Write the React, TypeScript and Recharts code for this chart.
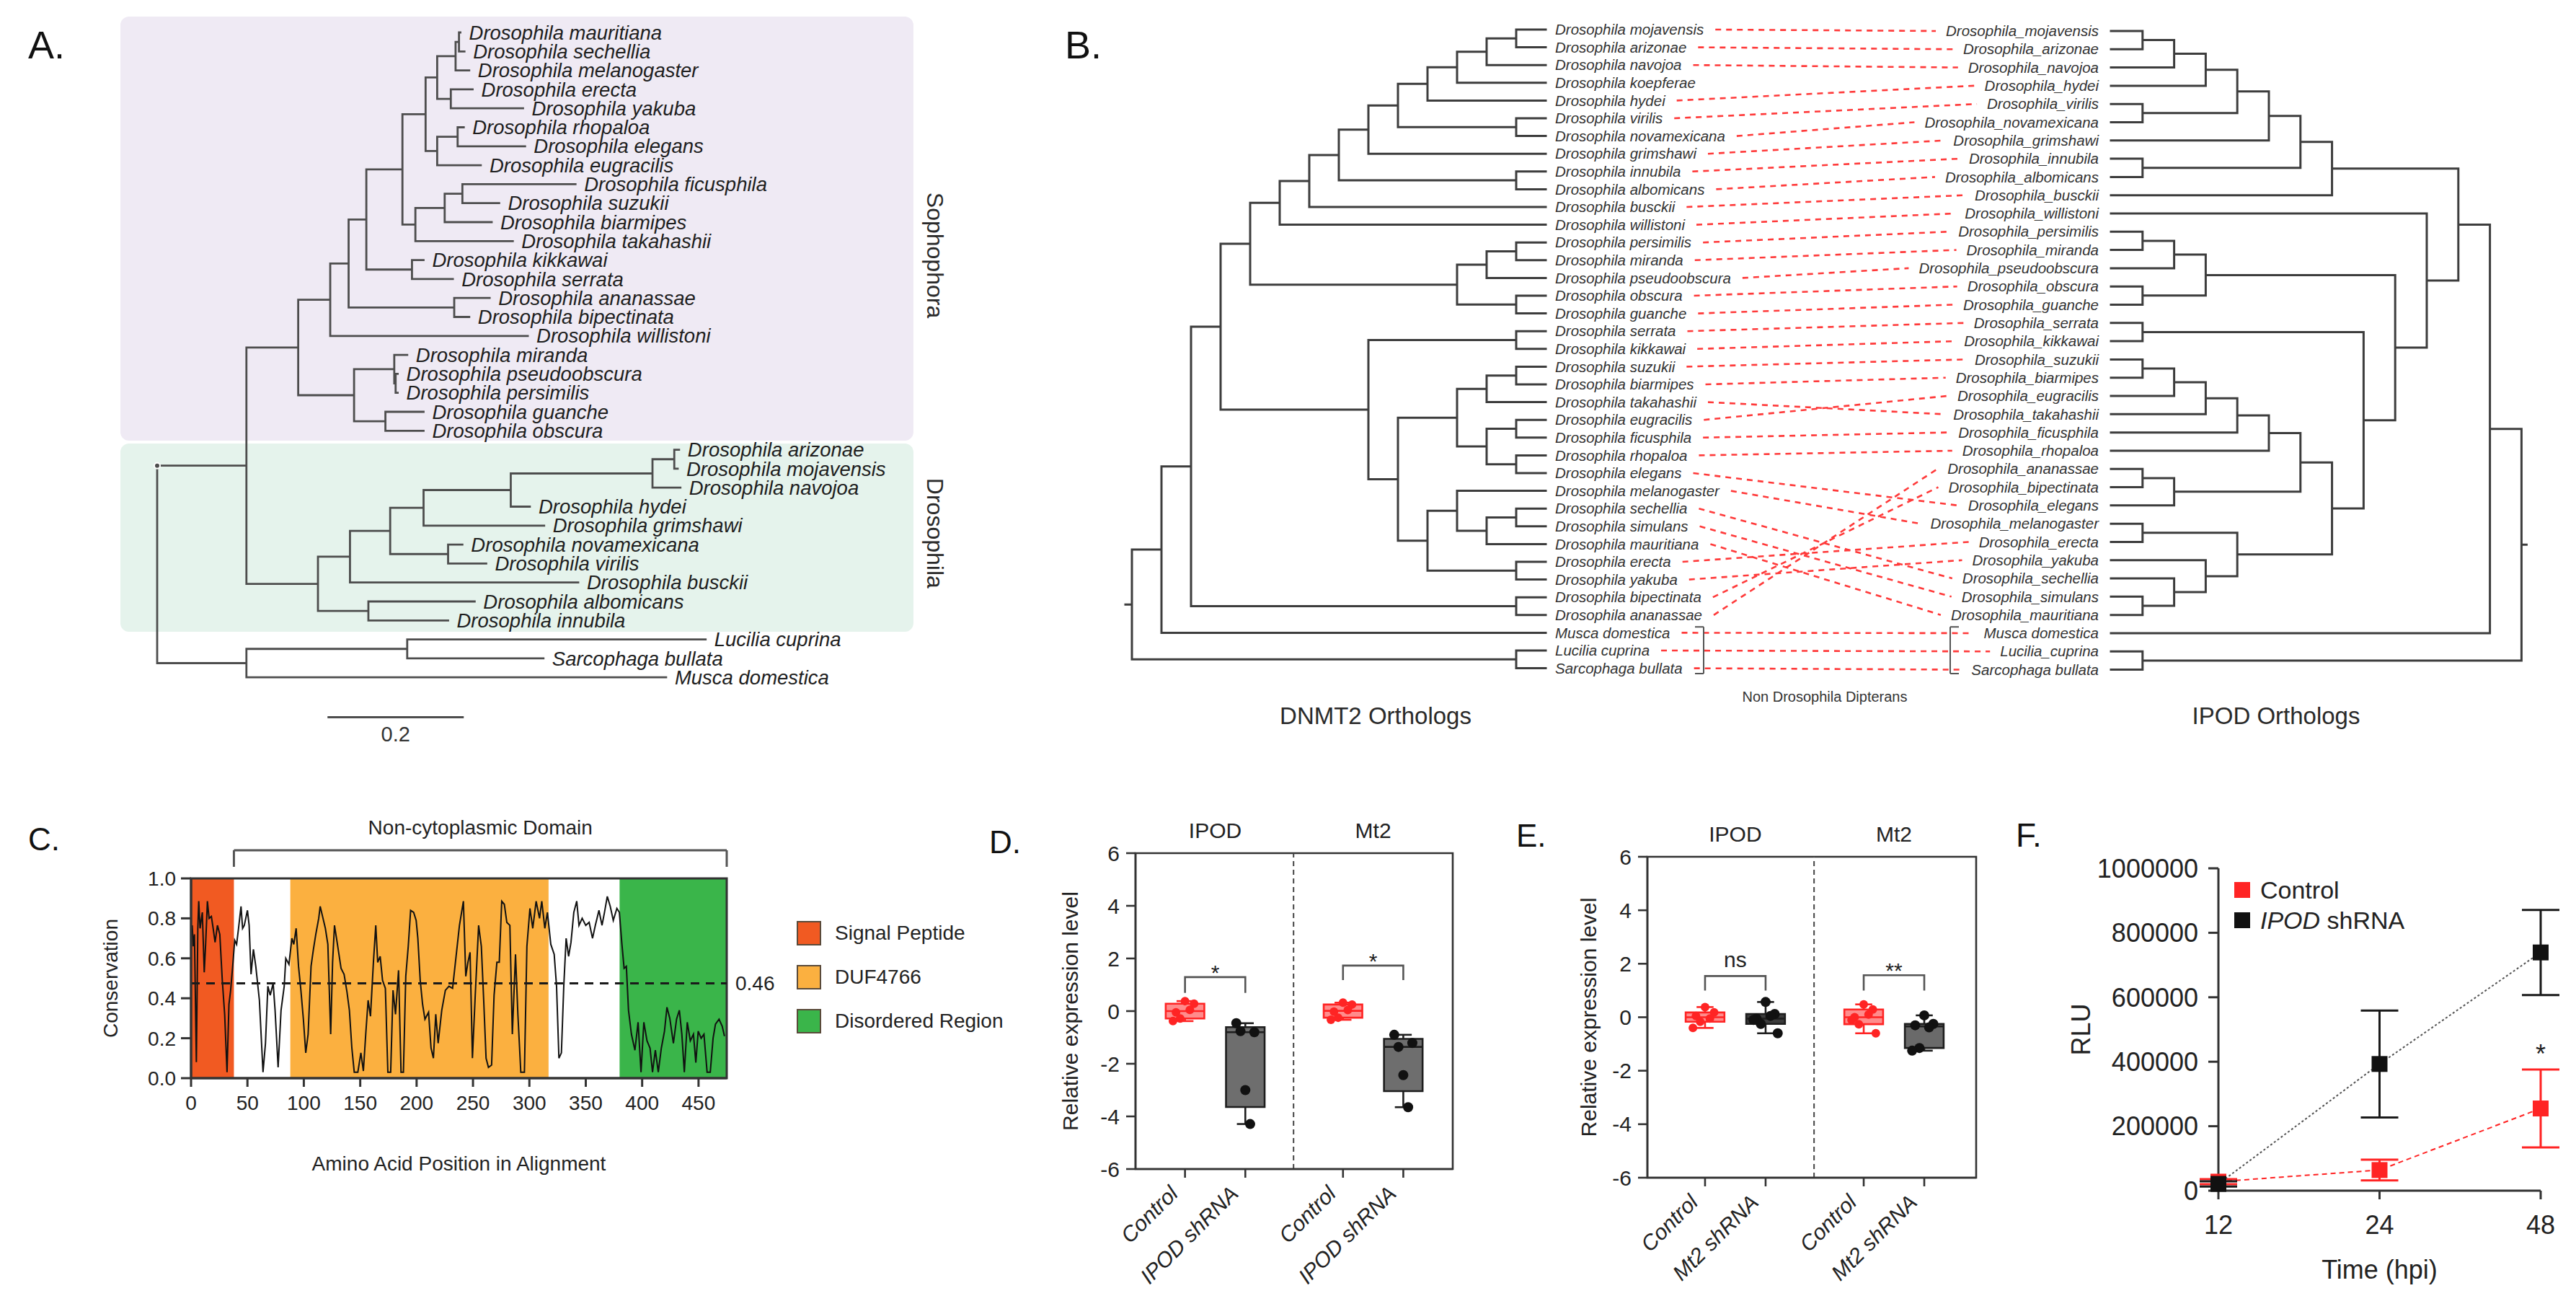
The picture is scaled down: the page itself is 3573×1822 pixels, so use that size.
import React from 'react';
import {
  ComposedChart, Line, Scatter, XAxis, YAxis, ReferenceArea, ReferenceLine,
  ReferenceDot, ErrorBar, Legend, Label,
} from 'recharts';

const FONT = '"Liberation Sans", Arial, Helvetica, sans-serif';
const INK = '#222';
const AXIS = '#333';
const RED = '#ff2424';

/* ---------------- A. IPOD phylogeny (Newick, substitutions / site) ---------------- */
const A_MELANOGASTER = '(((mauritiana:0.002,sechellia:0.008):0.005,melanogaster:0.020):0.027,(erecta:0.032,yakuba:0.106):0.020)';
const A_ELEGANS = '((rhopaloa:0.009,elegans:0.099):0.030,eugracilis:0.064)';
const A_SUZUKII = '(((ficusphila:0.166,suzukii:0.054):0.026,biarmipes:0.069):0.043,takahashii:0.143)';
const A_MONTIUM = '(kikkawai:0.017,serrata:0.060)';
const A_ANANASSAE = '(ananassae:0.052,bipectinata:0.022)';
const A_OBSCURA = '((miranda:0.019,(pseudoobscura:0.003,persimilis:0.003):0.002):0.059,(guanche:0.056,obscura:0.056):0.046)';
const A_REPLETA = '(((arizonae:0.007,mojavensis:0.005):0.032,navojoa:0.041):0.208,hydei:0.028)';
const A_VIRILIS = '(novamexicana:0.021,virilis:0.056)';
const A_IMMIGRANS = '(albomicans:0.156,innubila:0.117)';
const A_OUTGROUP = '((Lucilia cuprina:0.438,Sarcophaga bullata:0.200):0.236,Musca domestica:0.616)';
const A_SOPHOPHORA = `((((((${A_MELANOGASTER}:0.017,${A_ELEGANS}:0.017):0.034,${A_SUZUKII}:0.019):0.053,${A_MONTIUM}:0.067):0.026,${A_ANANASSAE}:0.155):0.027,willistoni:0.290):0.047,${A_OBSCURA}:0.082)`;
const A_DROSOPHILA = `((((${A_REPLETA}:0.128,grimshawi:0.177):0.049,${A_VIRILIS}:0.085):0.059,busckii:0.335):0.047,${A_IMMIGRANS}:0.074)`;
const A_TREE = `((${A_SOPHOPHORA}:0.076,${A_DROSOPHILA}:0.105):0.131,${A_OUTGROUP}:0.131);`;
const A_CLADES = ['Sophophora', 'Drosophila'];
const A_CLADE_FIRST = ['mauritiana', 'arizonae'];
const A_CLADE_LAST = ['obscura', 'innubila'];
const A_SCALE_BAR = 0.2;

/* ---------------- B. DNMT2 vs IPOD tanglegram (topologies) ---------------- */
const DNMT2_OBSCURA = '(((persimilis,miranda),pseudoobscura),(obscura,guanche))';
const DNMT2_MELANOGASTER = '((serrata,kikkawai),((((suzukii,biarmipes),takahashii),((eugracilis,ficusphila),(rhopaloa,elegans))),((melanogaster,((sechellia,simulans),mauritiana)),(erecta,yakuba))))';
const DNMT2_TREE = `((((((((((((((mojavensis,arizonae),navojoa),koepferae),hydei),(virilis,novamexicana)),grimshawi),(innubila,albomicans)),busckii),willistoni),${DNMT2_OBSCURA}),${DNMT2_MELANOGASTER}),(bipectinata,ananassae)),Musca domestica),(Lucilia cuprina,Sarcophaga bullata));`;
const IPOD_DROSOPHILA = '(((((((mojavensis,arizonae),navojoa),hydei),(virilis,novamexicana)),grimshawi),(innubila,albomicans)),busckii)';
const IPOD_OBSCURA = '(((persimilis,miranda),pseudoobscura),(obscura,guanche))';
const IPOD_SUZUKII = '(((((suzukii,biarmipes),eugracilis),takahashii),ficusphila),rhopaloa)';
const IPOD_MELANOGASTER = `((serrata,kikkawai),((${IPOD_SUZUKII},((ananassae,bipectinata),elegans)),((melanogaster,erecta),(yakuba,(sechellia,(simulans,mauritiana))))))`;
const IPOD_TREE = `(((${IPOD_DROSOPHILA},(willistoni,(${IPOD_OBSCURA},${IPOD_MELANOGASTER}))),Musca domestica),(Lucilia_cuprina,Sarcophaga bullata));`;

/* ---------------- C. conservation along the IPOD alignment ---------------- */
const C_PROFILE = [
  [1, 0.765], [2, 0.66], [3, 0.72], [4.7, 0.08], [6, 0.75], [6.8, 0.886], [8, 0.75], [10, 0.83], [11.7, 0.53], [13, 0.68],
  [14.5, 0.886], [16, 0.8], [18, 0.81], [19.6, 0.75], [21.3, 0.68], [23.4, 0.765], [25.5, 0.72], [27.7, 0.49], [29.8, 0.32], [31.9, 0.03],
  [33.6, 0.37], [35.1, 0.44], [37.2, 0.58], [38.7, 0.69], [40.4, 0.67], [42.1, 0.75], [44.3, 0.86], [45.7, 0.75], [47.2, 0.765], [50, 0.84],
  [51.5, 0.765], [53.2, 0.52], [55.3, 0.645], [57.4, 0.56], [60.6, 0.39], [63.8, 0.03], [66, 0.175], [68.1, 0.46], [70.2, 0.415], [72.8, 0.475],
  [74.5, 0.34], [77.2, 0.054], [79.8, 0.34], [82.6, 0.46], [84, 0.6], [86.8, 0.57], [89.4, 0.7], [91.1, 0.67], [93.2, 0.75], [95.3, 0.56],
  [97.4, 0.44], [99.6, 0.295], [101.7, 0.127], [103.8, 0.22], [106.4, 0.56], [108.5, 0.645], [110.6, 0.72], [113.2, 0.8], [114.5, 0.86], [116.6, 0.81],
  [119.1, 0.75], [121.3, 0.67], [123.8, 0.22], [125.5, 0.58], [127.2, 0.765], [129.8, 0.67], [133, 0.55], [135.7, 0.52], [138.3, 0.43], [140.4, 0.34],
  [142.6, 0.15], [144.7, 0.03], [147.9, 0.03], [150.6, 0.127], [152.8, 0.036], [154.9, 0.22], [157, 0.39], [159.1, 0.31], [161.7, 0.58], [163.8, 0.765],
  [165.5, 0.58], [167.7, 0.61], [169.8, 0.49], [172.3, 0.45], [174.5, 0.03], [177, 0.03], [179.1, 0.44], [181.3, 0.32], [184, 0.54], [186.2, 0.03],
  [188.3, 0.03], [190.4, 0.51], [192.6, 0.66], [194.7, 0.84], [197.4, 0.83], [199.6, 0.79], [201.1, 0.7], [203.2, 0.49], [205.3, 0.37], [207.4, 0.295],
  [210.6, 0.33], [212.8, 0.15], [214.9, 0.1], [217, 0.32], [219.1, 0.175], [222.3, 0.34], [225.5, 0.44], [228.7, 0.46], [231.9, 0.45], [235, 0.61],
  [238, 0.765], [241.5, 0.886], [243.6, 0.51], [245.5, 0.58], [247.4, 0.63], [249.5, 0.1], [252, 0.415], [255, 0.765], [257.4, 0.66], [259.5, 0.39],
  [261.6, 0.1], [263.7, 0.054], [266.5, 0.066], [268.7, 0.415], [271.2, 0.58], [273.3, 0.58], [275.5, 0.886], [277.8, 0.87], [280, 0.78], [282.7, 0.765],
  [284.9, 0.22], [287.7, 0.62], [289.8, 0.32], [292.4, 0.03], [295.6, 0.03], [297.8, 0.66], [300.5, 0.85], [303, 0.75], [306, 0.886], [309, 0.8],
  [311, 0.886], [313.7, 0.75], [316, 0.83], [319, 0.67], [322, 0.62], [324.1, 0.46], [326.2, 0.1], [328.4, 0.127], [330.5, 0.46], [332.6, 0.7],
  [334.8, 0.61], [336.9, 0.68], [339.4, 0.83], [342, 0.886], [344, 0.765], [346.8, 0.8], [350, 0.765], [353, 0.78], [356, 0.7], [358.5, 0.765],
  [361.7, 0.84], [364.4, 0.765], [366.6, 0.83], [369.1, 0.91], [371.7, 0.86], [374.4, 0.79], [377.6, 0.85], [379.8, 0.83], [381.9, 0.68], [384, 0.55],
  [386, 0.56], [387.9, 0.34], [390.5, 0.22], [393.6, 0.14], [396.4, 0.28], [399, 0.03], [401.5, 0.28], [404.3, 0.187], [407, 0.15], [409.2, 0.03],
  [411.7, 0.14], [414.3, 0.03], [417, 0.15], [419.8, 0.235], [422, 0.355], [424.5, 0.3], [427.7, 0.175], [430.5, 0.295], [433, 0.34], [435.2, 0.22],
  [437.4, 0.03], [440, 0.28], [442.7, 0.187], [445.5, 0.22], [447.6, 0.078], [449.7, 0.235], [452.3, 0.2], [454.8, 0.22], [457.6, 0.03], [460.4, 0.03],
  [462.9, 0.2], [465, 0.27], [468.2, 0.295], [471, 0.26], [473, 0.21],
];
const C_DOMAINS = ['Signal Peptide', 'DUF4766', 'Disordered Region'];
const C_DOMAIN_START = [0, 88, 380];
const C_DOMAIN_END = [38, 317, 475];
const C_DOMAIN_COLORS = ['#f15a22', '#fbb040', '#3ab54a'];
const C_NON_CYTO = [38, 475];
const C_THRESHOLD = 0.475;
const C_THRESHOLD_LABEL = '0.46';
const C_X_MAX = 475;
const C_X_TICKS = [0, 50, 100, 150, 200, 250, 300, 350, 400, 450];
const C_Y_TICKS = [0, 0.2, 0.4, 0.6, 0.8, 1];

/* ---------------- D / E. qPCR relative expression ---------------- */
const D_GROUPS = ['IPOD', 'Mt2'];
const D_TICKS = ['Control', 'IPOD shRNA', 'Control', 'IPOD shRNA'];
const D_IPOD_CONTROL = [0.38, -0.05, 0.28, -0.28, 0.05, -0.38];
const D_IPOD_SHRNA = [-3.0, -0.46, -0.8, -0.76, -4.29];
const D_MT2_CONTROL = [0.32, -0.02, 0.25, -0.25, 0.04, -0.33];
const D_MT2_SHRNA = [-2.43, -0.9, -1.21, -1.36, -3.65];
const D_SIG = ['*', '*'];

const E_GROUPS = ['IPOD', 'Mt2'];
const E_TICKS = ['Control', 'Mt2 shRNA', 'Control', 'Mt2 shRNA'];
const E_IPOD_CONTROL = [0.38, 0.05, 0.18, -0.17, -0.05, -0.4];
const E_IPOD_SHRNA = [0.57, -0.05, 0.12, -0.25, 0.05, -0.1, -0.6];
const E_MT2_CONTROL = [0.48, 0.0, 0.29, -0.26, 0.1, -0.1, -0.6];
const E_MT2_SHRNA = [0.07, -0.3, -0.25, -1.15, -0.38, -1.25];
const E_SIG = ['ns', '**'];
const EXPR_Y_TICKS = [-6, -4, -2, 0, 2, 4, 6];

/* ---------------- F. virus replication ---------------- */
const F_TIMES = ['12', '24', '48'];
const F_CONTROL = [28000, 64000, 255000];
const F_CONTROL_SD = [8000, 32000, 121000];
const F_SHRNA = [21000, 393000, 739000];
const F_SHRNA_SD = [8000, 166000, 132000];
const F_Y_TICKS = [0, 200000, 400000, 600000, 800000, 1000000];

/* ---------------- helpers ---------------- */
type TNode = { name: string; len: number; children: TNode[] };
type Seg = [number, number, number, number];
type Leaf = { name: string; x: number; y: number };

function parseNewick(src: string): TNode {
  let i = 0;
  const read = (): TNode => {
    const node: TNode = { name: '', len: 0, children: [] };
    if (src[i] === '(') {
      i += 1;
      node.children.push(read());
      while (src[i] === ',') { i += 1; node.children.push(read()); }
      i += 1;
    }
    let name = '';
    while (i < src.length && !',():;'.includes(src[i])) name += src[i++];
    node.name = name.trim();
    if (src[i] === ':') {
      i += 1;
      let num = '';
      while (i < src.length && !',();'.includes(src[i])) num += src[i++];
      node.len = parseFloat(num);
    }
    return node;
  };
  return read();
}

// branch lengths -> x distance from the root
function phylogram(root: TNode) {
  const leaves: Leaf[] = [];
  const segs: Seg[] = [];
  const walk = (n: TNode, px: number): { x: number; y: number } => {
    const x = px + n.len;
    if (!n.children.length) {
      const y = leaves.length;
      leaves.push({ name: n.name, x, y });
      return { x, y };
    }
    const kids = n.children.map((c) => walk(c, x));
    const y0 = kids[0].y;
    const y1 = kids[kids.length - 1].y;
    segs.push([x, y0, x, y1]);
    kids.forEach((k) => segs.push([x, k.y, k.x, k.y]));
    return { x, y: (y0 + y1) / 2 };
  };
  walk(root, 0);
  return { leaves, segs };
}

// no branch lengths: x = node height above the tips
function cladogram(root: TNode) {
  const leaves: Leaf[] = [];
  const segs: Seg[] = [];
  const walk = (n: TNode): { h: number; y: number } => {
    if (!n.children.length) {
      const y = leaves.length;
      leaves.push({ name: n.name, x: 0, y });
      return { h: 0, y };
    }
    const kids = n.children.map(walk);
    const h = 1 + Math.max(...kids.map((k) => k.h));
    const y0 = kids[0].y;
    const y1 = kids[kids.length - 1].y;
    segs.push([h, y0, h, y1]);
    kids.forEach((k) => segs.push([h, k.y, k.h, k.y]));
    return { h, y: (y0 + y1) / 2 };
  };
  const top = walk(root);
  return { leaves, segs, rootH: top.h, rootY: top.y };
}

const toPath = (segs: Seg[]) =>
  segs.flatMap(([x1, y1, x2, y2]) => [{ x: x1, y: y1 }, { x: x2, y: y2 }, { x: x2, y: null }]);

const fullName = (n: string, sep: string) => (/^[A-Z]/.test(n) ? n : `Drosophila${sep}${n}`);

let measureCtx: CanvasRenderingContext2D | null = null;
function textWidth(s: string, font: string) {
  if (!measureCtx) measureCtx = document.createElement('canvas').getContext('2d');
  if (!measureCtx) return s.length * 10;
  measureCtx.font = font;
  return measureCtx.measureText(s).width;
}

function textShape(o: { dx?: number; anchor?: string; size: number; italic?: boolean; fill?: string; rotate?: number }) {
  return (p: any) => {
    const x = p.cx + (o.dx || 0);
    const y = p.cy;
    return (
      <text
        x={x} y={y} dy="0.35em" textAnchor={o.anchor || 'start'} fontSize={o.size}
        fontStyle={o.italic ? 'italic' : 'normal'} fontFamily={FONT} fill={o.fill || INK}
        transform={o.rotate ? `rotate(${o.rotate} ${x} ${y})` : undefined}
      >
        {p.payload.label}
      </text>
    );
  };
}

function boxStats(v: number[]) {
  const s = [...v].sort((a, b) => a - b);
  const med = (a: number[]) => (a.length % 2 ? a[(a.length - 1) / 2] : (a[a.length / 2 - 1] + a[a.length / 2]) / 2);
  const half = Math.floor(s.length / 2);
  return { min: s[0], max: s[s.length - 1], median: med(s), q1: med(s.slice(0, half)), q3: med(s.slice(s.length - half)) };
}

/* ---------------- panel A ---------------- */
const A_W = 1340;
const A_H = 1060;
const A_ROOT_PX = 218;
const A_PX_PER_UNIT = 945;
const A_TOP_PX = 45;
const A_ROW_PX = 26.3;

function PanelA() {
  const { leaves, segs } = phylogram(parseNewick(A_TREE));
  const row = (n: string) => leaves.findIndex((l) => l.name === n);
  const xDom = [-A_ROOT_PX / A_PX_PER_UNIT, (A_W - A_ROOT_PX) / A_PX_PER_UNIT];
  const yDom = [-A_TOP_PX / A_ROW_PX, (A_H - A_TOP_PX) / A_ROW_PX];
  const boxPad = [[-0.84, 0.52], [-0.33, 0.6]];
  const cladeLabelRow = [11.75, 26.4];
  const labels = leaves.map((l) => ({ x: l.x, y: l.y, label: fullName(l.name, ' ') }));
  const barRow = leaves.length + 1.1;
  const barStart = 0.25;
  return (
    <ComposedChart width={A_W} height={A_H} margin={{ top: 0, right: 0, bottom: 0, left: 0 }}>
      <XAxis type="number" dataKey="x" domain={xDom} hide allowDataOverflow />
      <YAxis type="number" dataKey="y" domain={yDom} reversed hide allowDataOverflow />
      {A_CLADES.map((c, i) => (
        <ReferenceArea
          key={c} x1={-0.054} x2={1.11}
          y1={row(A_CLADE_FIRST[i]) + boxPad[i][0]} y2={row(A_CLADE_LAST[i]) + boxPad[i][1]}
          fill={i === 0 ? '#efeaf4' : '#e5f3ec'} fillOpacity={1} stroke="none" radius={12}
        />
      ))}
      <Line data={toPath(segs)} dataKey="y" stroke="#4d4d4d" strokeWidth={2.8} dot={false}
        strokeLinecap="square" isAnimationActive={false} />
      <Line data={[{ x: barStart, y: barRow }, { x: barStart + A_SCALE_BAR, y: barRow }]} dataKey="y"
        stroke="#4d4d4d" strokeWidth={3} dot={false} isAnimationActive={false} />
      <Scatter data={labels} isAnimationActive={false} shape={textShape({ dx: 12, size: 27.5, italic: true, fill: '#1e1e1e' })} />
      <Scatter
        data={A_CLADES.map((c, i) => ({ x: 1.142, y: cladeLabelRow[i], label: c }))}
        isAnimationActive={false} shape={textShape({ anchor: 'middle', size: 32, rotate: 90, fill: '#2a2a2a' })}
      />
      <Scatter data={[{ x: barStart + A_SCALE_BAR / 2, y: barRow + 0.88, label: String(A_SCALE_BAR) }]}
        isAnimationActive={false} shape={textShape({ anchor: 'middle', size: 29, fill: '#333' })} />
    </ComposedChart>
  );
}

/* ---------------- panel B ---------------- */
const B_W = 2123;
const B_H = 1060;
const B_TOP_PX = 41;
const B_ROW_PX = 24.6;
const B_L_TIP = 694;
const B_L_STEP = 41;
const B_R_TIP = 1478;
const B_R_STEP = 43.8;
const B_LABEL_SIZE = 20.5;

function PanelB() {
  const L = cladogram(parseNewick(DNMT2_TREE));
  const R = cladogram(parseNewick(IPOD_TREE));
  const rScale = (L.leaves.length - 1) / (R.leaves.length - 1);
  const rOff = 0.08;
  const lx = (h: number) => B_L_TIP - h * B_L_STEP;
  const rx = (h: number) => B_R_TIP + h * B_R_STEP;
  const ry = (y: number) => y * rScale + rOff;
  const leftSegs: Seg[] = L.segs.map(([a, b, c, d]) => [lx(a), b, lx(c), d]);
  leftSegs.push([lx(L.rootH), L.rootY, lx(L.rootH) - 9, L.rootY]);
  const rightSegs: Seg[] = R.segs.map(([a, b, c, d]) => [rx(a), ry(b), rx(c), ry(d)]);
  rightSegs.push([rx(R.rootH), ry(R.rootY), rx(R.rootH) + 7, ry(R.rootY)]);

  const font = `italic ${B_LABEL_SIZE}px ${FONT}`;
  const lLabels = L.leaves.map((l) => ({ x: lx(0), y: l.y, label: fullName(l.name, ' ') }));
  const rLabels = R.leaves.map((l) => ({ x: rx(0), y: ry(l.y), label: fullName(l.name, '_') }));
  const links: Seg[] = [];
  lLabels.forEach((l) => {
    const key = l.label.replace(/_/g, ' ');
    const r = rLabels.find((q) => q.label.replace(/_/g, ' ') === key);
    if (!r) return;
    links.push([
      l.x + 13 + textWidth(l.label, font) + 16, l.y,
      r.x - 17 - textWidth(r.label, font) - 14, r.y,
    ]);
  });
  const yDom = [-B_TOP_PX / B_ROW_PX, (B_H - B_TOP_PX) / B_ROW_PX];
  const outL = L.leaves.length - 3;
  const bracketTop = outL - 0.33;
  const bracketBot = L.leaves.length - 1 + 0.3;
  const brackets: Seg[] = [
    [913, bracketTop, 913, bracketBot], [901, bracketTop, 913, bracketTop], [901, bracketBot, 913, bracketBot],
    [1255, bracketTop, 1255, bracketBot], [1255, bracketTop, 1267, bracketTop], [1255, bracketBot, 1267, bracketBot],
  ];
  return (
    <ComposedChart width={B_W} height={B_H} margin={{ top: 0, right: 0, bottom: 0, left: 0 }}>
      <XAxis type="number" dataKey="x" domain={[0, B_W]} hide allowDataOverflow />
      <YAxis type="number" dataKey="y" domain={yDom} reversed hide allowDataOverflow />
      <Line data={toPath(links)} dataKey="y" stroke="#ff3a3a" strokeWidth={2.6} strokeDasharray="8 7"
        dot={false} isAnimationActive={false} />
      <Line data={toPath(leftSegs)} dataKey="y" stroke="#3d3d3d" strokeWidth={3} dot={false}
        strokeLinecap="square" isAnimationActive={false} />
      <Line data={toPath(rightSegs)} dataKey="y" stroke="#3d3d3d" strokeWidth={3} dot={false}
        strokeLinecap="square" isAnimationActive={false} />
      <Line data={toPath(brackets)} dataKey="y" stroke="#555" strokeWidth={2} dot={false} isAnimationActive={false} />
      <Scatter data={lLabels} isAnimationActive={false}
        shape={textShape({ dx: 13, size: B_LABEL_SIZE, italic: true, fill: '#333' })} />
      <Scatter data={rLabels} isAnimationActive={false}
        shape={textShape({ dx: -17, anchor: 'end', size: B_LABEL_SIZE, italic: true, fill: '#333' })} />
      <Scatter data={[{ x: 1081, y: 37.6, label: 'Non Drosophila Dipterans' }]} isAnimationActive={false}
        shape={textShape({ anchor: 'middle', size: 20, fill: '#333' })} />
      <Scatter data={[{ x: 458, y: 38.66, label: 'DNMT2 Orthologs' }, { x: 1707, y: 38.66, label: 'IPOD Orthologs' }]}
        isAnimationActive={false} shape={textShape({ anchor: 'middle', size: 33, fill: '#2a2a2a' })} />
    </ComposedChart>
  );
}

/* ---------------- panel C ---------------- */
function CLegend() {
  return (
    <div style={{ fontFamily: FONT }}>
      {C_DOMAINS.map((d, i) => (
        <div key={d} style={{ display: 'flex', alignItems: 'center', height: 34, marginBottom: 27 }}>
          <div style={{ width: 34, height: 34, background: C_DOMAIN_COLORS[i], border: '2px solid #5a4a3a', boxSizing: 'border-box' }} />
          <span style={{ marginLeft: 19, fontSize: 28, color: INK, whiteSpace: 'nowrap' }}>{d}</span>
        </div>
      ))}
    </div>
  );
}

function PanelC() {
  const data = C_PROFILE.map(([x, y]) => ({ x, y }));
  const tick = { fontSize: 28, fill: INK, fontFamily: FONT };
  const line = { stroke: AXIS, strokeWidth: 3 };
  const bY = 1.141;
  const legY = 1.058;
  return (
    <ComposedChart width={1440} height={560} margin={{ top: 138, left: 41, right: 432, bottom: 17 }}>
      <XAxis type="number" dataKey="x" domain={[0, C_X_MAX]} ticks={C_X_TICKS} interval={0} allowDataOverflow
        height={128} tickSize={12} tickMargin={12} tick={tick} axisLine={line} tickLine={line}>
        <Label value="Amino Acid Position in Alignment" position="insideBottom" offset={0} fontSize={28} fill={INK} fontFamily={FONT} />
      </XAxis>
      <YAxis type="number" dataKey="y" domain={[0, 1]} ticks={C_Y_TICKS} interval={0} allowDataOverflow
        tickFormatter={(v: number) => v.toFixed(1)} width={224} tickSize={14} tickMargin={7} tick={tick} axisLine={line} tickLine={line}>
        <Label value="Conservation" angle={-90} position="center" fontSize={28} fill={INK} fontFamily={FONT} />
      </YAxis>
      {C_DOMAINS.map((d, i) => (
        <ReferenceArea key={d} x1={C_DOMAIN_START[i]} x2={C_DOMAIN_END[i]} y1={0} y2={1}
          fill={C_DOMAIN_COLORS[i]} fillOpacity={1} stroke="none" />
      ))}
      <Line data={data} dataKey="y" stroke="#111" strokeWidth={2} dot={false} isAnimationActive={false} />
      <ReferenceLine y={C_THRESHOLD} stroke="#1a1a1a" strokeWidth={3} strokeDasharray="12 9"
        label={{ value: C_THRESHOLD_LABEL, position: 'right', offset: 12, fontSize: 28, fill: INK, fontFamily: FONT }} />
      <ReferenceArea x1={0} x2={C_X_MAX} y1={0} y2={1} fill="none" stroke={AXIS} strokeWidth={3} ifOverflow="visible" />
      <ReferenceLine segment={[{ x: C_NON_CYTO[0], y: bY }, { x: C_NON_CYTO[1], y: bY }]} ifOverflow="visible"
        stroke="#555" strokeWidth={3}
        label={{ value: 'Non-cytoplasmic Domain', position: 'top', offset: 22, fontSize: 28, fill: INK, fontFamily: FONT }} />
      <ReferenceLine segment={[{ x: C_NON_CYTO[0], y: bY }, { x: C_NON_CYTO[0], y: legY }]} ifOverflow="visible" stroke="#555" strokeWidth={3} />
      <ReferenceLine segment={[{ x: C_NON_CYTO[1], y: bY }, { x: C_NON_CYTO[1], y: legY }]} ifOverflow="visible" stroke="#555" strokeWidth={3} />
      <Legend layout="horizontal" verticalAlign="middle" align="center" content={() => <CLegend />}
        wrapperStyle={{ left: 1105, top: 197, width: 330, height: 'auto' }} />
    </ComposedChart>
  );
}

/* ---------------- panels D / E ---------------- */
const EXPR_POS = [1, 2, 3.62, 4.62];
const EXPR_DIVIDER = 2.8;
const BOX_HALF = 0.32;
const CAP_HALF = 0.14;
const JITTER = [0, -0.15, 0.15, -0.08, 0.08, -0.2, 0.2];

type ExprProps = {
  width: number; height: number; margin: any;
  yAxisWidth: number; xAxisHeight: number; domainX: number[];
  groups: string[]; tickLabels: string[]; samples: number[][]; shrnaFills: string[];
  sig: string[]; brackets: number[][];
};

function ExprPanel(p: ExprProps) {
  const tick = { fontSize: 30, fill: INK, fontFamily: FONT };
  const line = { stroke: AXIS, strokeWidth: 2.6 };
  const groupCenters = [0, 1].map((g) => (EXPR_POS[2 * g] + EXPR_POS[2 * g + 1]) / 2);
  const renderTick = (t: any) => {
    const i = EXPR_POS.findIndex((v) => Math.abs(v - t.payload.value) < 1e-6);
    const x = t.x - 8;
    const y = t.y;
    return (
      <text x={x} y={y} transform={`rotate(-45 ${x} ${y})`} textAnchor="end" fontSize={30}
        fontStyle="italic" fontFamily={FONT} fill={INK}>
        {p.tickLabels[i]}
      </text>
    );
  };
  return (
    <ComposedChart width={p.width} height={p.height} margin={p.margin}>
      <XAxis type="number" dataKey="x" domain={p.domainX} ticks={EXPR_POS} interval={0} allowDataOverflow
        height={p.xAxisHeight} tickSize={12} tickMargin={24} tick={renderTick} axisLine={line} tickLine={line} />
      <YAxis type="number" dataKey="y" domain={[-6, 6]} ticks={EXPR_Y_TICKS} interval={0} allowDataOverflow
        width={p.yAxisWidth} tickSize={13} tickMargin={9} tick={tick} axisLine={line} tickLine={line}>
        <Label value="Relative expression level" angle={-90} position="center" fontSize={30} fill={INK} fontFamily={FONT} />
      </YAxis>
      <ReferenceArea x1={p.domainX[0]} x2={p.domainX[1]} y1={-6} y2={6} fill="none" stroke={AXIS} strokeWidth={2.6} ifOverflow="visible" />
      <ReferenceLine x={EXPR_DIVIDER} stroke="#444" strokeWidth={2} strokeDasharray="7 5" />
      {groupCenters.map((c, g) => (
        <ReferenceDot key={`grp-${g}`} x={c} y={6} r={0} fill="none" stroke="none" ifOverflow="visible"
          label={{ value: p.groups[g], position: 'top', offset: 21, fontSize: 30, fill: INK, fontFamily: FONT }} />
      ))}
      {p.samples.map((vals, i) => {
        const s = boxStats(vals);
        const x = EXPR_POS[i];
        const control = i % 2 === 0;
        const stroke = control ? RED : '#1e1e1e';
        const fill = control ? '#ff8c8c' : p.shrnaFills[i >> 1];
        const w = 2.6;
        return (
          <React.Fragment key={`box-${i}`}>
            <ReferenceLine segment={[{ x, y: s.min }, { x, y: s.q1 }]} stroke={stroke} strokeWidth={w} />
            <ReferenceLine segment={[{ x, y: s.q3 }, { x, y: s.max }]} stroke={stroke} strokeWidth={w} />
            <ReferenceLine segment={[{ x: x - CAP_HALF, y: s.min }, { x: x + CAP_HALF, y: s.min }]} stroke={stroke} strokeWidth={w} />
            <ReferenceLine segment={[{ x: x - CAP_HALF, y: s.max }, { x: x + CAP_HALF, y: s.max }]} stroke={stroke} strokeWidth={w} />
            <ReferenceArea x1={x - BOX_HALF} x2={x + BOX_HALF} y1={s.q1} y2={s.q3} fill={fill} fillOpacity={1}
              stroke={stroke} strokeWidth={w} />
            <ReferenceLine segment={[{ x: x - BOX_HALF, y: s.median }, { x: x + BOX_HALF, y: s.median }]} stroke={stroke} strokeWidth={w} />
          </React.Fragment>
        );
      })}
      {p.samples.map((vals, i) => (
        <Scatter key={`pts-${i}`} isAnimationActive={false}
          data={vals.map((v, k) => ({ x: EXPR_POS[i] + JITTER[k % JITTER.length], y: v }))}
          shape={(q: any) => <circle cx={q.cx} cy={q.cy} r={i % 2 === 0 ? 6 : 7} fill={i % 2 === 0 ? RED : '#111'} />} />
      ))}
      {p.brackets.map(([leg, top], g) => {
        const a = EXPR_POS[2 * g];
        const b = EXPR_POS[2 * g + 1];
        return (
          <Line key={`br-${g}`} data={[{ x: a, y: leg }, { x: a, y: top }, { x: b, y: top }, { x: b, y: leg }]}
            dataKey="y" stroke="#555" strokeWidth={2.6} dot={false} isAnimationActive={false} />
        );
      })}
      {p.brackets.map(([, top], g) => (
        <ReferenceDot key={`sig-${g}`} x={(EXPR_POS[2 * g] + EXPR_POS[2 * g + 1]) / 2} y={top} r={0}
          fill="none" stroke="none"
          label={{ value: p.sig[g], position: 'top', offset: p.sig[g] === 'ns' ? 12 : -4, fontSize: 30, fill: INK, fontFamily: FONT }} />
      ))}
    </ComposedChart>
  );
}

/* ---------------- panel F ---------------- */
const squareDot = (color: string) => (q: any) => {
  if (q.cx == null || q.cy == null) return <g key={q.key} />;
  return <rect key={q.key} x={q.cx - 11} y={q.cy - 11} width={22} height={22} fill={color} />;
};

function FLegend() {
  const item = (color: string, content: React.ReactNode) => (
    <div style={{ display: 'flex', alignItems: 'center', height: 42 }}>
      <div style={{ width: 22, height: 22, background: color }} />
      <span style={{ marginLeft: 14, fontSize: 34, color: INK, whiteSpace: 'nowrap' }}>{content}</span>
    </div>
  );
  return (
    <div style={{ fontFamily: FONT }}>
      {item(RED, 'Control')}
      {item('#111', <><i>IPOD</i> shRNA</>)}
    </div>
  );
}

function PanelF() {
  const data = F_TIMES.map((t, i) => ({
    t, control: F_CONTROL[i], controlSd: F_CONTROL_SD[i], shrna: F_SHRNA[i], shrnaSd: F_SHRNA_SD[i],
  }));
  const tick = { fontSize: 36, fill: INK, fontFamily: FONT };
  const line = { stroke: AXIS, strokeWidth: 3 };
  return (
    <ComposedChart width={883} height={722} data={data} margin={{ top: 104, left: 5, right: 49, bottom: 11 }}>
      <XAxis dataKey="t" height={160} tickSize={12} tickMargin={22} tick={tick} axisLine={line} tickLine={line}>
        <Label value="Time (hpi)" position="insideBottom" offset={38} fontSize={36} fill={INK} fontFamily={FONT} />
      </XAxis>
      <XAxis xAxisId="top" orientation="top" dataKey="t" height={0} tick={false} tickLine={false} axisLine={line}>
        <Label value="Virus Replication" position="top" offset={46} fontSize={36} fill={INK} fontFamily={FONT} />
      </XAxis>
      <YAxis domain={[0, 1000000]} ticks={F_Y_TICKS} interval={0} width={382} tickSize={14} tickMargin={14}
        tick={tick} axisLine={line} tickLine={line}>
        <Label value="RLU" angle={-90} position="center" fontSize={36} fill={INK} fontFamily={FONT} />
      </YAxis>
      <YAxis yAxisId="right" orientation="right" domain={[0, 1000000]} width={0} tick={false} tickLine={false} axisLine={line} />
      <Line dataKey="control" stroke={RED} strokeWidth={2} strokeDasharray="7 5" dot={squareDot(RED)} isAnimationActive={false}>
        <ErrorBar dataKey="controlSd" width={26} strokeWidth={3} stroke={RED} direction="y" />
      </Line>
      <Line dataKey="shrna" stroke="#555" strokeWidth={2} strokeDasharray="3 3" dot={squareDot('#111')} isAnimationActive={false}>
        <ErrorBar dataKey="shrnaSd" width={26} strokeWidth={3} stroke="#1a1a1a" direction="y" />
      </Line>
      <ReferenceDot x="48" y={405000} r={0} fill="none" stroke="none"
        label={{ value: '*', position: 'top', offset: -4, fontSize: 36, fill: INK, fontFamily: FONT }} />
      <Legend layout="horizontal" verticalAlign="middle" align="center" content={() => <FLegend />}
        wrapperStyle={{ left: 409, top: 113, width: 330, height: 'auto' }} />
    </ComposedChart>
  );
}

/* ---------------- page ---------------- */
const PANEL_LETTERS = ['A.', 'B.', 'C.', 'D.', 'E.', 'F.'];
const LETTER_POS = [[39, 35, 54], [1477, 35, 54], [39, 1142, 44], [1372, 1146, 44], [2103, 1137, 44], [2796, 1135, 46]];

export default function App() {
  const abs = (left: number, top: number): React.CSSProperties => ({ position: 'absolute', left, top });
  return (
    <div style={{ position: 'relative', width: 3573, height: 1822, background: '#fff', fontFamily: FONT, overflow: 'hidden' }}>
      <style>{'body{margin:0}'}</style>
      <div style={abs(0, 0)}><PanelA /></div>
      <div style={abs(1450, 0)}><PanelB /></div>
      <div style={abs(0, 1080)}><PanelC /></div>
      <div style={abs(1330, 1100)}>
        <ExprPanel width={720} height={722} margin={{ top: 83, left: 63, right: 35, bottom: 6 }}
          yAxisWidth={182} xAxisHeight={195} domainX={[0.179, 5.44]} groups={D_GROUPS} tickLabels={D_TICKS}
          samples={[D_IPOD_CONTROL, D_IPOD_SHRNA, D_MT2_CONTROL, D_MT2_SHRNA]} shrnaFills={['#6e6e6e', '#6e6e6e']}
          sig={D_SIG} brackets={[[0.69, 1.29], [1.18, 1.73]]} />
      </div>
      <div style={abs(2080, 1100)}>
        <ExprPanel width={700} height={722} margin={{ top: 88, left: 41, right: 39, bottom: 6 }}
          yAxisWidth={164} xAxisHeight={183} domainX={[0.048, 5.477]} groups={E_GROUPS} tickLabels={E_TICKS}
          samples={[E_IPOD_CONTROL, E_IPOD_SHRNA, E_MT2_CONTROL, E_MT2_SHRNA]} shrnaFills={['#3c3c3c', '#6a6a6a']}
          sig={E_SIG} brackets={[[1.0, 1.54], [1.0, 1.57]]} />
      </div>
      <div style={abs(2690, 1100)}><PanelF /></div>
      {PANEL_LETTERS.map((t, i) => (
        <div key={t} style={{ ...abs(LETTER_POS[i][0], LETTER_POS[i][1]), fontSize: LETTER_POS[i][2], lineHeight: 1, color: '#111' }}>{t}</div>
      ))}
    </div>
  );
}
